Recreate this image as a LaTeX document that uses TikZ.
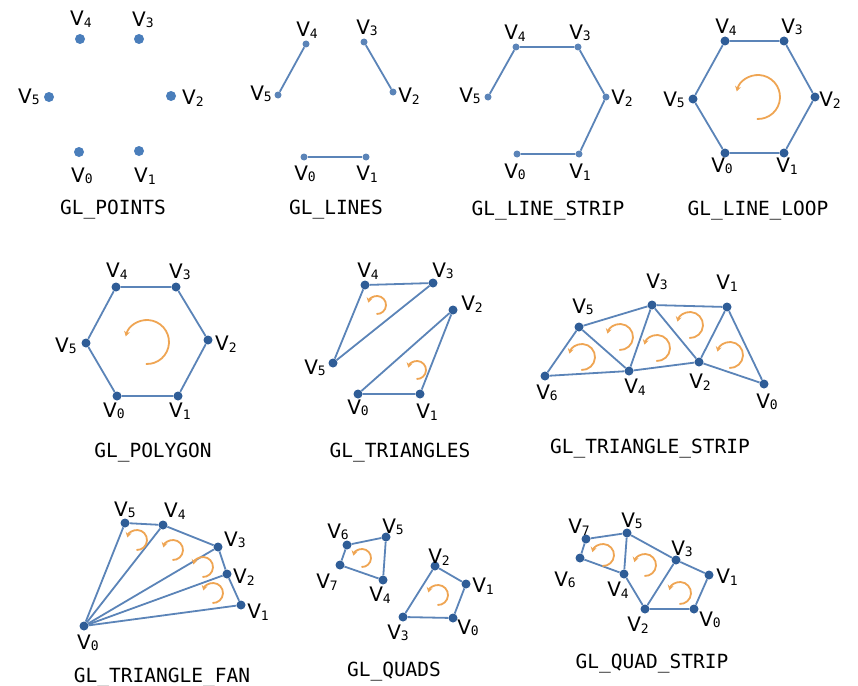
\documentclass[tikz,border=0pt]{standalone}
\usepackage{fontspec}
\usetikzlibrary{arrows.meta}
\newfontfamily\monof{DejaVu Sans Mono}
\newfontfamily\vfont{DejaVu Sans}
\definecolor{edgeblue}{HTML}{5B84B8}
\definecolor{dotblue}{HTML}{2F5D97}
\definecolor{ptblue}{HTML}{4A7EBB}
\definecolor{arrorange}{HTML}{EFA553}
\newcommand\vx[1]{{\vfont V}\raisebox{-1.5pt}{\fontsize{13}{13}\monof #1}}
\newcommand\vtx[5]{\node[#1] (#2) at (#3) {}; \node[vlab] (l#2) at (#4) {\vx{#5}};}
\newcommand\ccw[3]{\draw[warr] (#1,#2) ++(93:#3) arc[start angle=93,end angle=-165,radius=#3];}
\tikzset{
 vdot/.style={circle,fill=dotblue,inner sep=0pt,minimum size=9pt},
 pdot/.style={circle,fill=ptblue,inner sep=0pt,minimum size=10pt},
 sdot/.style={circle,fill=edgeblue,inner sep=0pt,minimum size=7pt},
 vlab/.style={inner sep=0pt,font=\fontsize{20}{20}\selectfont},
 title/.style={anchor=base,inner sep=0pt,font=\monof\fontsize{19.5}{20}\selectfont},
 edge/.style={draw=edgeblue,line width=1.8pt,line join=round},
 warr/.style={draw=arrorange,line width=1.8pt,-{Stealth[length=5pt,width=6pt]}},
}
\begin{document}
\begin{tikzpicture}[x=1pt,y=-1pt]
\useasboundingbox[fill=white] (0,0) rectangle (858,685);
% ---------- GL_POINTS
\vtx{pdot}{a0}{79,152}{82,176}{0}
\vtx{pdot}{a1}{139,151}{145,176}{1}
\vtx{pdot}{a2}{171,96}{193,98}{2}
\vtx{pdot}{a3}{139,39}{143,20}{3}
\vtx{pdot}{a4}{80,39}{81,19}{4}
\vtx{pdot}{a5}{49,97}{29,97}{5}
\node[title] (t1) at (113,214) {GL\_POINTS};
% ---------- GL_LINES
\vtx{sdot}{b0}{304,157}{305,174}{0}
\vtx{sdot}{b1}{366,157}{367,174}{1}
\vtx{sdot}{b2}{393,92}{409,96}{2}
\vtx{sdot}{b3}{364,42}{367,28}{3}
\vtx{sdot}{b4}{306,44}{307,30}{4}
\vtx{sdot}{b5}{278,95}{261,94}{5}
\draw[edge] (b0) -- (b1);
\draw[edge] (b2) -- (b3);
\draw[edge] (b4) -- (b5);
\node[title] (t2) at (336,214) {GL\_LINES};
% ---------- GL_LINE_STRIP
\vtx{sdot}{c0}{517,154}{515,172}{0}
\vtx{sdot}{c1}{579,154}{580,172}{1}
\vtx{sdot}{c2}{606,97}{622,98}{2}
\vtx{sdot}{c3}{578,47}{580,33}{3}
\vtx{sdot}{c4}{516,47}{515,33}{4}
\vtx{sdot}{c5}{488,97}{470,96}{5}
\draw[edge] (c0) -- (c1) -- (c2) -- (c3) -- (c4) -- (c5);
\node[title] (t3) at (548,215) {GL\_LINE\_STRIP};
% ---------- GL_LINE_LOOP
\vtx{vdot}{d0}{725,153}{722,166}{0}
\vtx{vdot}{d1}{784,153}{787,166}{1}
\vtx{vdot}{d2}{815,97}{830,100}{2}
\vtx{vdot}{d3}{784,41}{792,27}{3}
\vtx{vdot}{d4}{725,41}{726,27}{4}
\vtx{vdot}{d5}{693,99}{674,100}{5}
\draw[edge] (d0) -- (d1) -- (d2) -- (d3) -- (d4) -- (d5) -- (d0);
\ccw{758}{97}{22}
\node[title] (t4) at (758,215) {GL\_LINE\_LOOP};
% ---------- GL_POLYGON
\vtx{vdot}{e0}{117,396}{114,411}{0}
\vtx{vdot}{e1}{178,396}{180,411}{1}
\vtx{vdot}{e2}{208,340}{226,344}{2}
\vtx{vdot}{e3}{176,287}{180,272}{3}
\vtx{vdot}{e4}{116,287}{117,271}{4}
\vtx{vdot}{e5}{86,343}{66,346}{5}
\draw[edge] (e0) -- (e1) -- (e2) -- (e3) -- (e4) -- (e5) -- (e0);
\ccw{147}{342}{22}
\node[title] (t5) at (153,457) {GL\_POLYGON};
% ---------- GL_TRIANGLES
\vtx{vdot}{f0}{358,394}{358,408}{0}
\vtx{vdot}{f1}{420,394}{427,412}{1}
\vtx{vdot}{f2}{453,310}{472,304}{2}
\vtx{vdot}{f3}{433,283}{443,271}{3}
\vtx{vdot}{f4}{365,285}{368,271}{4}
\vtx{vdot}{f5}{333,363}{315,368}{5}
\draw[edge] (f0) -- (f1) -- (f2) -- (f0);
\draw[edge] (f3) -- (f4) -- (f5) -- (f3);
\ccw{377}{305}{9}
\ccw{417}{370}{9}
\node[title] (t6) at (400,457) {GL\_TRIANGLES};
% ---------- GL_TRIANGLE_STRIP
\vtx{vdot}{g0}{764,384}{767,402}{0}
\vtx{vdot}{g1}{727,307}{727,283}{1}
\vtx{vdot}{g2}{699,362}{700,382}{2}
\vtx{vdot}{g3}{652,305}{657,282}{3}
\vtx{vdot}{g4}{629,371}{635,387}{4}
\vtx{vdot}{g5}{579,327}{583,307}{5}
\vtx{vdot}{g6}{545,376}{547,393}{6}
\draw[edge] (g6) -- (g5) -- (g3) -- (g1) -- (g0) -- (g2) -- (g4) -- (g6);
\draw[edge] (g5) -- (g4) -- (g3) -- (g2) -- (g1);
\ccw{582}{357}{13}
\ccw{620}{337}{13}
\ccw{657}{348}{13}
\ccw{690}{325}{13}
\ccw{730}{355}{13}
\node[title] (t7) at (650,453) {GL\_TRIANGLE\_STRIP};
% ---------- GL_TRIANGLE_FAN
\vtx{vdot}{h0}{84,626}{88,643}{0}
\vtx{vdot}{h1}{241,605}{258,612}{1}
\vtx{vdot}{h2}{227,574}{244,577}{2}
\vtx{vdot}{h3}{218,547}{235,540}{3}
\vtx{vdot}{h4}{163,525}{175,511}{4}
\vtx{vdot}{h5}{125,523}{125,510}{5}
\draw[edge] (h1) -- (h2) -- (h3) -- (h4) -- (h5);
\foreach \k in {1,...,5} {\draw[edge] (h0) -- (h\k);}
\ccw{137}{540}{10}
\ccw{173}{550}{10}
\ccw{203}{567}{10}
\ccw{213}{593}{10}
\node[title] (t8) at (162,682) {GL\_TRIANGLE\_FAN};
% ---------- GL_QUADS
\vtx{vdot}{i0}{453,618}{468,628}{0}
\vtx{vdot}{i1}{466,584}{483,586}{1}
\vtx{vdot}{i2}{435,566}{439,557}{2}
\vtx{vdot}{i3}{403,617}{398,633}{3}
\vtx{vdot}{i4}{383,580}{380,595}{4}
\vtx{vdot}{i5}{386,537}{393,527}{5}
\vtx{vdot}{i6}{347,545}{338,532}{6}
\vtx{vdot}{i7}{340,565}{327,582}{7}
\draw[edge] (i0) -- (i1) -- (i2) -- (i3) -- (i0);
\draw[edge] (i4) -- (i5) -- (i6) -- (i7) -- (i4);
\ccw{362}{558}{9}
\ccw{438}{595}{10}
\node[title] (t9) at (394,676) {GL\_QUADS};
% ---------- GL_QUAD_STRIP
\vtx{vdot}{j0}{694,609}{710,620}{0}
\vtx{vdot}{j1}{709,575}{727,577}{1}
\vtx{vdot}{j2}{645,609}{638,625}{2}
\vtx{vdot}{j3}{676,560}{682,549}{3}
\vtx{vdot}{j4}{624,574}{618,590}{4}
\vtx{vdot}{j5}{627,533}{632,521}{5}
\vtx{vdot}{j6}{580,558}{565,580}{6}
\vtx{vdot}{j7}{586,539}{579,527}{7}
\draw[edge] (j6) -- (j7) -- (j5) -- (j3) -- (j1) -- (j0) -- (j2) -- (j4) -- (j6);
\draw[edge] (j5) -- (j4);
\draw[edge] (j3) -- (j2);
\ccw{603}{555}{11}
\ccw{645}{565}{11}
\ccw{680}{593}{11}
\node[title] (t10) at (652,668) {GL\_QUAD\_STRIP};
\end{tikzpicture}
\end{document}
